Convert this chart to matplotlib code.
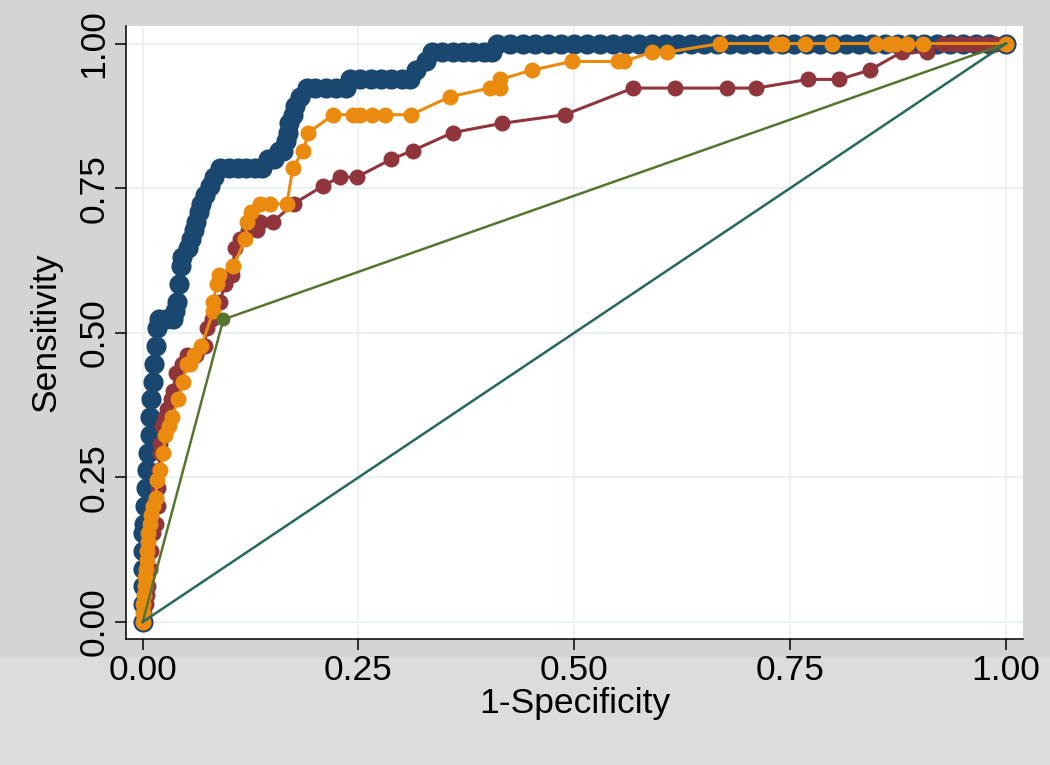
"""
ROC curves (Stata-style) for three classifiers plus a single cut-point rule.
"""

import matplotlib
matplotlib.use("Agg")
import matplotlib.pyplot as plt
from matplotlib.patches import Rectangle

# --- data (x = 1-specificity, y = sensitivity) ---
navy_x = [0.000, 0.000, 0.000, 0.000, 0.000, 0.000, 0.002, 0.003, 0.004, 0.005,
          0.006, 0.008, 0.009, 0.010, 0.012, 0.013, 0.015, 0.017, 0.019, 0.027,
          0.035, 0.037, 0.040, 0.042, 0.044, 0.046, 0.052, 0.056, 0.059, 0.062,
          0.065, 0.068, 0.072, 0.078, 0.083, 0.090, 0.100, 0.110, 0.120, 0.130,
          0.138, 0.145, 0.152, 0.158, 0.163, 0.166, 0.168, 0.170, 0.174, 0.177,
          0.182, 0.190, 0.200, 0.212, 0.224, 0.236, 0.240, 0.252, 0.264, 0.276,
          0.288, 0.300, 0.310, 0.317, 0.328, 0.335, 0.347, 0.359, 0.371, 0.383,
          0.395, 0.405, 0.410, 0.425, 0.440, 0.455, 0.470, 0.485, 0.500, 0.515,
          0.530, 0.545, 0.560, 0.575, 0.590, 0.605, 0.620, 0.635, 0.650, 0.665,
          0.680, 0.695, 0.710, 0.725, 0.740, 0.755, 0.770, 0.785, 0.800, 0.815,
          0.830, 0.845, 0.860, 0.875, 0.890, 0.905, 0.920, 0.935, 0.950, 0.965,
          0.980, 1.000]
navy_y = [0.000, 0.031, 0.062, 0.092, 0.123, 0.154, 0.169, 0.200, 0.231, 0.262,
          0.292, 0.323, 0.354, 0.385, 0.415, 0.446, 0.477, 0.508, 0.523, 0.523,
          0.523, 0.538, 0.554, 0.585, 0.615, 0.631, 0.646, 0.662, 0.677, 0.692,
          0.708, 0.723, 0.738, 0.754, 0.769, 0.785, 0.785, 0.785, 0.785, 0.785,
          0.785, 0.800, 0.800, 0.815, 0.815, 0.831, 0.846, 0.862, 0.877, 0.892,
          0.908, 0.923, 0.923, 0.923, 0.923, 0.923, 0.938, 0.938, 0.938, 0.938,
          0.938, 0.938, 0.938, 0.954, 0.969, 0.985, 0.985, 0.985, 0.985, 0.985,
          0.985, 0.985, 1.000, 1.000, 1.000, 1.000, 1.000, 1.000, 1.000, 1.000,
          1.000, 1.000, 1.000, 1.000, 1.000, 1.000, 1.000, 1.000, 1.000, 1.000,
          1.000, 1.000, 1.000, 1.000, 1.000, 1.000, 1.000, 1.000, 1.000, 1.000,
          1.000, 1.000, 1.000, 1.000, 1.000, 1.000, 1.000, 1.000, 1.000, 1.000,
          1.000, 1.000]

maroon_x = [0.000, 0.002, 0.004, 0.005, 0.006, 0.008, 0.010, 0.012, 0.016, 0.018,
            0.018, 0.019, 0.020, 0.020, 0.022, 0.026, 0.028, 0.033, 0.035, 0.039,
            0.045, 0.051, 0.062, 0.072, 0.074, 0.080, 0.090, 0.095, 0.103, 0.107,
            0.113, 0.122, 0.132, 0.136, 0.151, 0.175, 0.209, 0.228, 0.248, 0.288,
            0.313, 0.359, 0.416, 0.489, 0.568, 0.617, 0.677, 0.711, 0.771, 0.807,
            0.842, 0.879, 0.908, 0.927, 0.937, 0.948, 0.958, 0.968, 0.978, 0.988,
            1.000]
maroon_y = [0.000, 0.015, 0.031, 0.046, 0.062, 0.092, 0.123, 0.154, 0.169, 0.200,
            0.231, 0.262, 0.292, 0.308, 0.338, 0.354, 0.369, 0.385, 0.400, 0.431,
            0.446, 0.462, 0.462, 0.477, 0.508, 0.523, 0.554, 0.585, 0.600, 0.646,
            0.662, 0.677, 0.677, 0.692, 0.692, 0.723, 0.754, 0.769, 0.769, 0.800,
            0.815, 0.846, 0.862, 0.877, 0.923, 0.923, 0.923, 0.923, 0.938, 0.938,
            0.954, 0.985, 0.985, 1.000, 1.000, 1.000, 1.000, 1.000, 1.000, 1.000,
            1.000]

orange_x = [0.000, 0.000, 0.000, 0.002, 0.003, 0.003, 0.004, 0.005, 0.005, 0.006,
            0.0065, 0.008, 0.010, 0.012, 0.015, 0.017, 0.020, 0.024, 0.026, 0.030,
            0.034, 0.041, 0.047, 0.051, 0.055, 0.059, 0.068, 0.082, 0.082, 0.086,
            0.088, 0.105, 0.119, 0.121, 0.126, 0.136, 0.148, 0.167, 0.174, 0.186,
            0.192, 0.221, 0.244, 0.252, 0.266, 0.281, 0.311, 0.356, 0.402, 0.414,
            0.414, 0.451, 0.497, 0.551, 0.557, 0.590, 0.607, 0.669, 0.734, 0.740,
            0.767, 0.799, 0.850, 0.864, 0.871, 0.885, 0.904, 1.000]
orange_y = [0.000, 0.015, 0.031, 0.046, 0.062, 0.077, 0.092, 0.108, 0.123, 0.138,
            0.154, 0.169, 0.185, 0.200, 0.215, 0.246, 0.262, 0.292, 0.323, 0.338,
            0.354, 0.385, 0.415, 0.446, 0.446, 0.462, 0.477, 0.538, 0.554, 0.585,
            0.600, 0.615, 0.662, 0.692, 0.708, 0.723, 0.723, 0.723, 0.785, 0.815,
            0.846, 0.877, 0.877, 0.877, 0.877, 0.877, 0.877, 0.908, 0.923, 0.923,
            0.938, 0.954, 0.969, 0.969, 0.969, 0.985, 0.985, 1.000, 1.000, 1.000,
            1.000, 1.000, 1.000, 1.000, 1.000, 1.000, 1.000, 1.000]

cut_x = [0.0, 0.0934, 1.0]
cut_y = [0.0, 0.523, 1.0]

ref_x = [0.0, 1.0]
ref_y = [0.0, 1.0]

ticks = [0.0, 0.25, 0.5, 0.75, 1.0]
tick_labels = ["0.00", "0.25", "0.50", "0.75", "1.00"]

NAVY = "#1a476f"
MAROON = "#90353b"
ORANGE = "#ea8a0e"
GREEN = "#55752f"
TEAL = "#26695c"

plt.rcParams["font.family"] = ["Liberation Sans", "DejaVu Sans"]

fig = plt.figure(figsize=(10.5, 7.65), dpi=100, facecolor="#d4d4d4")
# lighter band along the bottom of the canvas
fig.patches.append(Rectangle((0, 0), 1, 108 / 765, transform=fig.transFigure,
                             facecolor="#dcdcdc", edgecolor="none", zorder=-5))
ax = fig.add_axes([126 / 1050, 126 / 765, 897 / 1050, 613 / 765])
ax.set_facecolor("white")

# --- curves ---
ax.plot(navy_x, navy_y, color=NAVY, linewidth=4, marker="o", markersize=14.5,
        markeredgewidth=0, zorder=3, clip_on=False)
ax.plot(maroon_x, maroon_y, color=MAROON, linewidth=2.2, marker="o", markersize=11.5,
        markeredgewidth=0, zorder=4, clip_on=False)
ax.plot(orange_x, orange_y, color=ORANGE, linewidth=2.2, marker="o", markersize=11.5,
        markeredgewidth=0, zorder=5, clip_on=False)
ax.plot(cut_x, cut_y, color=GREEN, linewidth=1.8, zorder=6)
ax.plot(cut_x[1:2], cut_y[1:2], color=GREEN, marker="o", markersize=10,
        markeredgewidth=0, zorder=6, linestyle="none")
ax.plot(ref_x, ref_y, color=TEAL, linewidth=1.8, zorder=7)

# --- axes ---
ax.set_xlim(-0.0193, 1.0197)
ax.set_ylim(-0.0294, 1.0303)
ax.set_xticks(ticks)
ax.set_xticklabels(tick_labels)
ax.set_yticks(ticks)
ax.set_yticklabels(tick_labels, rotation=90, va="center")
ax.grid(True, color="#eaf2f3", linewidth=1.5)
ax.set_axisbelow(True)
ax.tick_params(direction="out", length=8, width=1.1, labelsize=25.5, pad=3)
for side in ("top", "right"):
    ax.spines[side].set_visible(False)
for side in ("left", "bottom"):
    ax.spines[side].set_linewidth(1.1)
ax.set_xlabel("1-Specificity", fontsize=25.5, labelpad=0)
ax.set_ylabel("Sensitivity", fontsize=25.5)
ax.yaxis.set_label_coords(-0.0713, 0.5)

fig.savefig("out.png", dpi=100, facecolor=fig.get_facecolor())
